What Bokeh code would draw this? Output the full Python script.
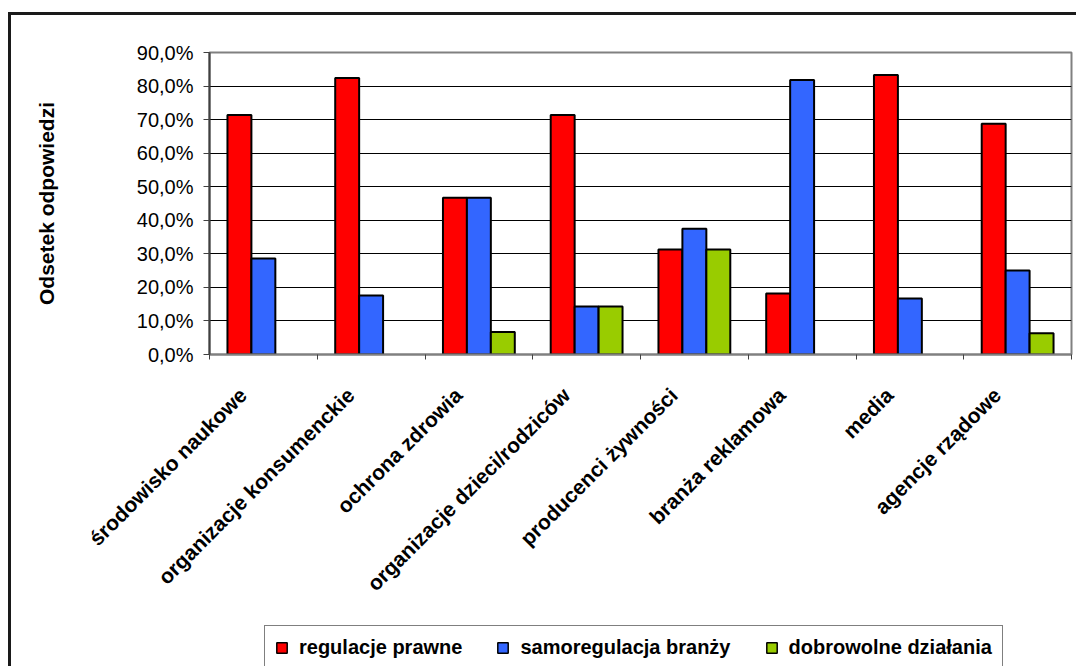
from math import pi

from bokeh.embed import file_html
from bokeh.layouts import column
from bokeh.models import ColumnDataSource, FixedTicker, Legend, LegendItem, Range1d
from bokeh.plotting import figure
from bokeh.resources import INLINE

# --- data ---------------------------------------------------------------
categories = [
    "środowisko naukowe",
    "organizacje konsumenckie",
    "ochrona zdrowia",
    "organizacje dzieci/rodziców",
    "producenci żywności",
    "branża reklamowa",
    "media",
    "agencje rządowe",
]
series_names = ["regulacje prawne", "samoregulacja branży", "dobrowolne działania"]
regulacje_prawne = [71.4, 82.4, 46.7, 71.4, 31.3, 18.2, 83.3, 68.8]
samoregulacja_branzy = [28.6, 17.6, 46.7, 14.3, 37.5, 81.8, 16.7, 25.0]
dobrowolne_dzialania = [0.0, 0.0, 6.7, 14.3, 31.3, 0.0, 0.0, 6.3]
y_ticks = [0, 10, 20, 30, 40, 50, 60, 70, 80, 90]
y_tick_labels = [f"{t:.1f}%".replace(".", ",") for t in y_ticks]
y_title = "Odsetek odpowiedzi"

series_values = [regulacje_prawne, samoregulacja_branzy, dobrowolne_dzialania]
colors = ["#FF0000", "#3366FF", "#99CC00"]

FONT = "Liberation Sans"
FRAME_INK = "#1a1a1a"
n_cat = len(categories)
n_ser = len(series_values)
gap_ratio = 1.5                       # gap between groups, in bar widths
bar_w = 1.0 / (n_ser + gap_ratio)
centers = [i + 0.5 for i in range(n_cat)]
label_shift = 0.19                    # slanted names end a little left of the group centre

W, H_CHART, H_KEY = 1076, 620, 46
BORDER_L, BORDER_R = 209, 5


def frame_css(top_edge):
    """Dark border of the whole chart, painted behind the (transparent) canvas."""
    images = [f"linear-gradient({FRAME_INK}, {FRAME_INK})"]
    sizes = ["3px 100%"]
    positions = ["8px 12px" if top_edge else "8px 0px"]
    if top_edge:
        images.append(f"linear-gradient({FRAME_INK}, {FRAME_INK})")
        sizes.append("100% 3px")
        positions.append("8px 12px")
    return {
        "background-color": "white",
        "background-image": ", ".join(images),
        "background-size": ", ".join(sizes),
        "background-position": ", ".join(positions),
        "background-repeat": "no-repeat",
    }


# one source per series, shared by the bars and by the legend keys
sources = []
for k, vals in enumerate(series_values):
    offset = (k - (n_ser - 1) / 2) * bar_w
    xs = [c + offset for c, v in zip(centers, vals) if v > 0]
    tops = [v for v in vals if v > 0]
    sources.append(ColumnDataSource(dict(x=xs, top=tops)))

# --- main chart -----------------------------------------------------------
p = figure(
    width=W, height=H_CHART,
    x_range=Range1d(0, n_cat), y_range=Range1d(0, max(y_ticks)),
    output_backend="svg", toolbar_location=None,
    min_border_left=BORDER_L, min_border_right=BORDER_R,
    min_border_top=52, min_border_bottom=266,
    background_fill_color="white", border_fill_color=None,
)
p.styles = frame_css(top_edge=True)
p.outline_line_color = "#808080"
p.outline_line_width = 2

for src, col in zip(sources, colors):
    p.vbar(x="x", top="top", bottom=0, width=bar_w, source=src,
           fill_color=col, line_color="black", line_width=2)

p.xgrid.visible = False
p.ygrid.ticker = FixedTicker(ticks=y_ticks)
p.ygrid.grid_line_color = "black"
p.ygrid.grid_line_width = 1

yax = p.yaxis[0]
yax.ticker = FixedTicker(ticks=y_ticks)
yax.major_label_overrides = dict(zip(y_ticks, y_tick_labels))
yax.major_label_text_font = FONT
yax.major_label_text_font_size = "20px"
yax.major_label_text_color = "black"
yax.major_label_standoff = 10
yax.major_tick_in = 0
yax.major_tick_out = 6
yax.major_tick_line_color = "#404040"
yax.minor_tick_line_color = None
yax.axis_line_color = "#404040"
yax.axis_line_width = 2
yax.axis_label = y_title
yax.axis_label_text_font = FONT
yax.axis_label_text_font_size = "21px"
yax.axis_label_text_font_style = "bold"
yax.axis_label_text_color = "black"
yax.axis_label_standoff = 76

# slanted category names; tick marks sit between the groups
label_pos = [c - label_shift for c in centers]
xax = p.xaxis[0]
xax.ticker = FixedTicker(ticks=label_pos, minor_ticks=list(range(n_cat + 1)))
xax.major_label_overrides = dict(zip(label_pos, categories))
xax.major_label_orientation = pi / 4
xax.major_label_text_font = FONT
xax.major_label_text_font_size = "21px"
xax.major_label_text_font_style = "bold"
xax.major_label_text_color = "black"
xax.major_label_standoff = 32
xax.major_tick_line_color = None
xax.major_tick_in = 0
xax.major_tick_out = 0
xax.minor_tick_in = 0
xax.minor_tick_out = 5
xax.minor_tick_line_color = "#404040"
xax.axis_line_color = "#808080"
xax.axis_line_width = 2

# --- legend strip under the chart ----------------------------------------
key = figure(
    width=W, height=H_KEY,
    x_range=Range1d(0, n_cat), y_range=Range1d(0, max(y_ticks)),
    x_axis_type=None, y_axis_type=None,
    output_backend="svg", toolbar_location=None,
    min_border_left=BORDER_L, min_border_right=BORDER_R,
    min_border_top=0, min_border_bottom=0,
    background_fill_color=None, border_fill_color=None,
)
key.styles = frame_css(top_edge=False)
key.outline_line_color = None
key.grid.visible = False

# hidden renderers: they only supply the coloured keys of the legend
key_renderers = []
for src, col in zip(sources, colors):
    r = key.vbar(x="x", top="top", bottom=0, width=bar_w, source=src,
                 fill_color=col, line_color="black", line_width=1.5)
    r.visible = False
    key_renderers.append(r)

legend = Legend(
    items=[LegendItem(label=name, renderers=[r]) for name, r in zip(series_names, key_renderers)],
    orientation="horizontal",
    location=(264 - BORDER_L, -4),
    glyph_width=13, glyph_height=13,
    label_height=22,
    label_standoff=11, spacing=34, padding=10,
    label_text_font=FONT, label_text_font_size="20px", label_text_font_style="bold",
    label_text_color="black",
    inactive_fill_alpha=0,
    border_line_color="black", border_line_width=1.5,
    background_fill_color="white", background_fill_alpha=1,
    click_policy="none",
)
key.add_layout(legend)

page = column(p, key, spacing=0)
open("out.html", "w").write(file_html(page, INLINE))
